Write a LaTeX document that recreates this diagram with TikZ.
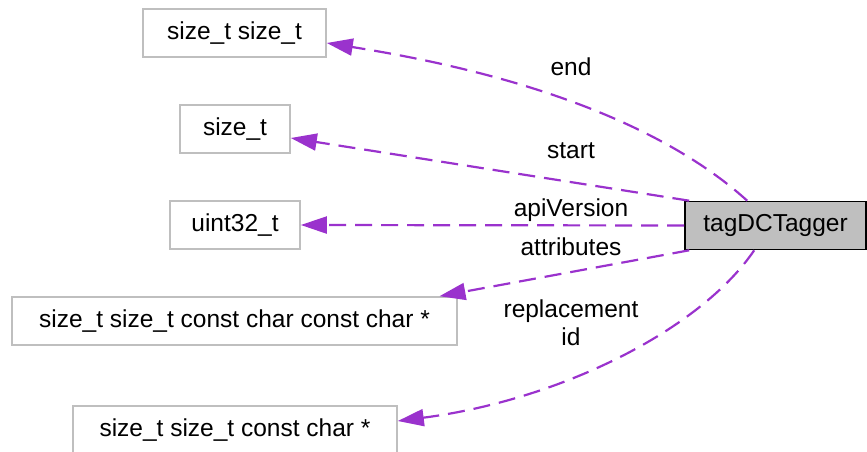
\documentclass[tikz,border=0pt]{standalone}
\usepackage{fontspec}
\setmainfont{Liberation Sans}
\usetikzlibrary{arrows.meta}
\definecolor{edgec}{HTML}{9A32CD}
\definecolor{boxgray}{HTML}{BFBFBF}
\begin{document}
\begin{tikzpicture}[x=1pt,y=-1pt,
  every node/.style={font=\fontsize{24.5}{28}\selectfont, inner sep=0pt},
  leaf/.style={draw=boxgray, line width=1.6pt, minimum height=48pt, anchor=center},
  mainbox/.style={draw=black, fill=boxgray, line width=1.6pt, minimum height=48pt, minimum width=181pt},
  dep/.style={draw=edgec, line width=2.2pt, dash pattern=on 17pt off 9pt,
    -{Triangle[length=26pt,width=17pt,fill=edgec]}},
  lbl/.style={text=black}]
\useasboundingbox (0,0) rectangle (867,452);
\node[leaf, minimum width=183pt] (n1) at (234.5,33) {size\_t size\_t};
\node[leaf, minimum width=110pt] (n2) at (235,129) {size\_t};
\node[leaf, minimum width=130pt] (n3) at (235,225) {uint32\_t};
\node[leaf, minimum width=445pt] (n4) at (234.5,321) {size\_t size\_t const char const char *};
\node[leaf, minimum width=324pt] (n5) at (235,430) {size\_t size\_t const char *};
\node[mainbox] (m) at (775.5,225.5) {tagDCTagger};

\draw[dep] ([xshift=63pt]m.north west) .. controls (680,140) and (560,80) .. ([yshift=-10pt]n1.east);
\draw[dep] ([xshift=5pt]m.north west) -- ([yshift=-9pt]n2.east);
\draw[dep] (m.west) -- (n3.east);
\draw[dep] ([xshift=5pt]m.south west) -- ([xshift=205pt]n4.north);
\draw[dep] ([xshift=70pt]m.south west) .. controls (700,330) and (560,400) .. ([yshift=9pt]n5.east);

\node[lbl] (l1) at (571,67) {end};
\node[lbl] (l2) at (571,151) {start};
\node[lbl] (l3) at (571,210) {apiVersion};
\node[lbl] (l4) at (571,247) {attributes};
\node[lbl] (l5) at (571,311) {replacement};
\node[lbl] (l6) at (571,337) {id};
\end{tikzpicture}
\end{document}
